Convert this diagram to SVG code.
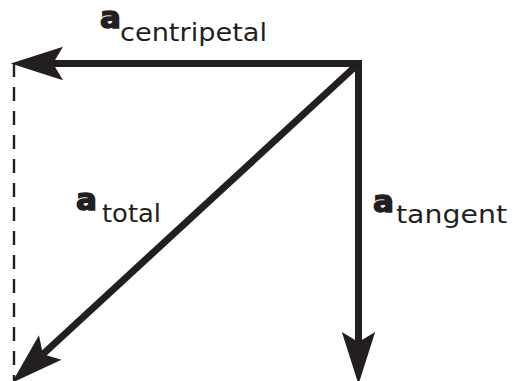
<svg xmlns="http://www.w3.org/2000/svg" width="513" height="381" viewBox="0 0 513 381">
<style>
.line{stroke:#231f20;stroke-width:7;fill:none;stroke-linecap:butt}
.dash{stroke:#231f20;stroke-width:2.4;fill:none;stroke-dasharray:14 10}
.main{font-family:"DejaVu Sans",sans-serif;font-weight:bold;font-size:31px;fill:#231f20;stroke:#231f20;stroke-width:1.5}
.sub{font-family:"DejaVu Sans",sans-serif;font-size:24px;fill:#231f20}
</style>
<defs>
<marker id="head" markerUnits="userSpaceOnUse" markerWidth="60" markerHeight="40" refX="0" refY="0" orient="auto" overflow="visible" viewBox="-12 -18 54 36">
<path d="M38,0 L-9,-15 L0,0 L-9,15 Z" fill="#231f20"/>
</marker>
</defs>
<rect width="513" height="381" fill="#ffffff"/>
<g id="connectors">
<line class="dash" x1="14" y1="63" x2="14" y2="381"/>
<path id="a-centripetal-arrow" class="line" d="M362,63.5 L53,63.5" marker-end="url(#head)"/>
<path id="a-tangent-arrow" class="line" d="M358.5,60 L358.5,342" marker-end="url(#head)"/>
<path id="a-total-arrow" class="line" stroke-width="6.5" d="M358.5,63.5 L42.9,354.2" marker-end="url(#head)"/>
</g>
<g id="label-centripetal">
<text class="main" x="100" y="28">a</text>
<text class="sub" x="120" y="40.5" textLength="147" lengthAdjust="spacingAndGlyphs">centripetal</text>
</g>
<g id="label-total">
<text class="main" x="76" y="210">a</text>
<text class="sub" x="102" y="222" textLength="59" lengthAdjust="spacingAndGlyphs">total</text>
</g>
<g id="label-tangent">
<text class="main" x="373" y="211.5">a</text>
<text class="sub" x="396" y="223" textLength="111" lengthAdjust="spacingAndGlyphs">tangent</text>
</g>
</svg>
